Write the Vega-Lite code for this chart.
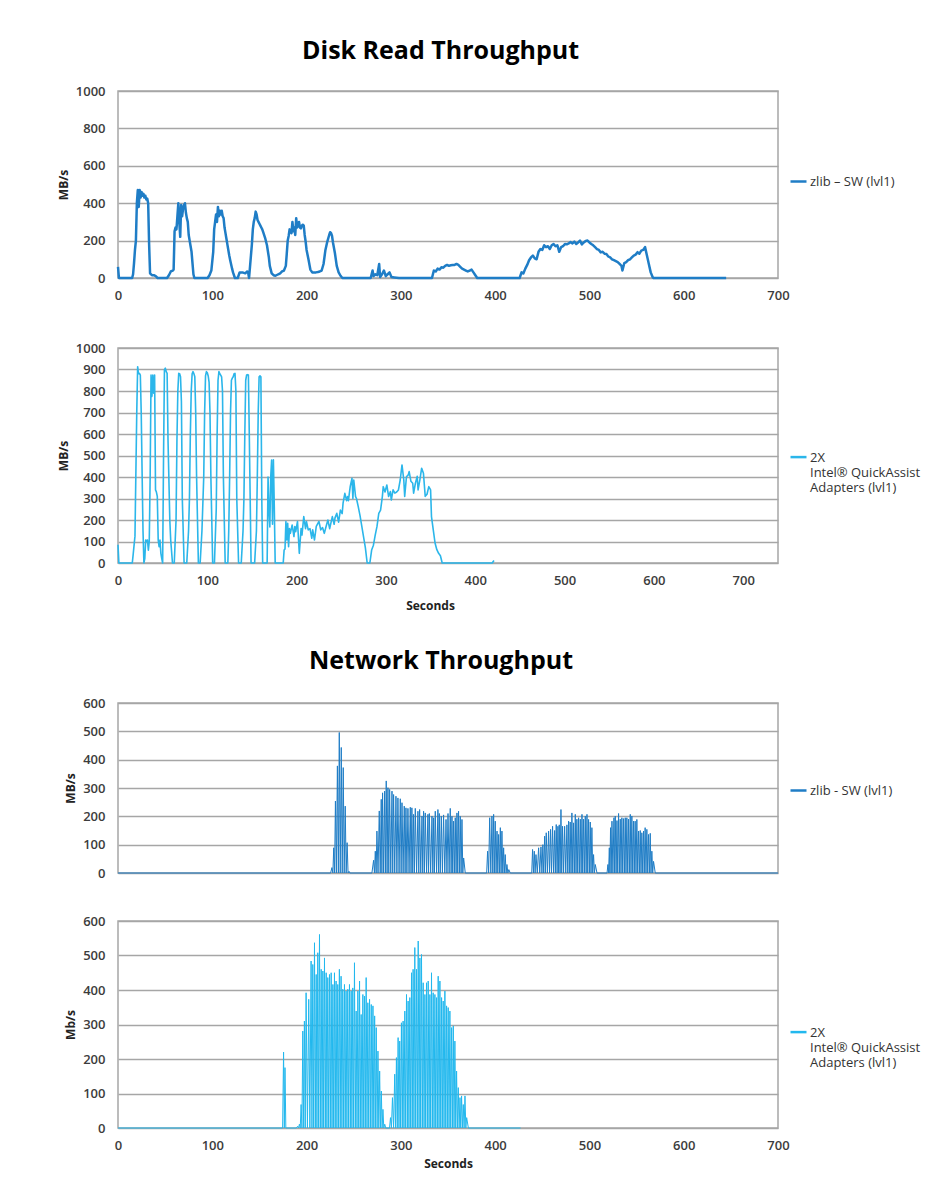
{
  "$schema": "https://vega.github.io/schema/vega-lite/v6.json",
  "background": "white",
  "padding": {"left": 56, "top": 39, "right": 5, "bottom": 5},
  "config": {
    "font": "Open Sans",
    "view": {"stroke": "#a6a6a6", "strokeWidth": 1.5},
    "axis": {"labelFont": "Open Sans", "labelFontSize": 13, "labelFontWeight": 600, "labelColor": "#3c3c3c", "ticks": false, "domain": false, "gridColor": "#a6a6a6", "gridWidth": 1.5, "titleFont": "Open Sans", "titleFontSize": 12, "titleFontWeight": 700, "titleColor": "#222222", "labelFlush": false, "format": "d"},
    "axisX": {"grid": false, "labelPadding": 11},
    "axisY": {"labelPadding": 13, "titlePadding": 5},
    "legend": {"labelFont": "Open Sans", "labelFontSize": 13, "labelColor": "#333333", "symbolStrokeWidth": 2.5, "symbolSize": 256, "symbolType": "stroke", "labelLimit": 0, "labelOffset": 2},
    "title": {"font": "Open Sans", "fontSize": 25, "fontWeight": 700, "color": "#000000"}
  },
  "datasets": {
    "diskZlib": [
      {"t":0,"v":60},{"t":1,"v":0},{"t":15,"v":0},{"t":16,"v":20},{"t":17,"v":80},{"t":18,"v":150},{"t":19,"v":200},{"t":20,"v":400},{"t":21,"v":470},{"t":22,"v":380},{"t":23,"v":470},{"t":24,"v":430},{"t":25,"v":460},{"t":26,"v":440},{"t":27,"v":450},{"t":28,"v":430},{"t":29,"v":440},{"t":30,"v":420},{"t":31,"v":425},{"t":32,"v":400},{"t":33,"v":180},{"t":34,"v":25},{"t":36,"v":15},{"t":38,"v":15},{"t":40,"v":10},{"t":42,"v":0},
      {"t":52,"v":0},{"t":54,"v":15},{"t":56,"v":35},{"t":58,"v":40},{"t":59,"v":45},{"t":60,"v":250},{"t":61,"v":270},{"t":62,"v":260},{"t":63,"v":330},{"t":64,"v":400},{"t":65,"v":300},{"t":66,"v":220},{"t":67,"v":390},{"t":68,"v":330},{"t":69,"v":370},{"t":70,"v":390},{"t":71,"v":400},{"t":72,"v":350},{"t":73,"v":320},{"t":74,"v":300},{"t":75,"v":230},{"t":76,"v":200},{"t":77,"v":170},{"t":78,"v":140},{"t":79,"v":80},{"t":80,"v":20},{"t":81,"v":0},
      {"t":95,"v":0},{"t":97,"v":15},{"t":99,"v":40},{"t":101,"v":140},{"t":102,"v":260},{"t":103,"v":300},{"t":104,"v":340},{"t":105,"v":300},{"t":106,"v":380},{"t":107,"v":330},{"t":108,"v":360},{"t":109,"v":340},{"t":110,"v":360},{"t":111,"v":330},{"t":112,"v":320},{"t":113,"v":270},{"t":114,"v":240},{"t":115,"v":210},{"t":116,"v":180},{"t":118,"v":120},{"t":119,"v":95},{"t":121,"v":50},{"t":122,"v":30},{"t":124,"v":0},
      {"t":127,"v":0},{"t":129,"v":30},{"t":132,"v":30},{"t":135,"v":25},{"t":137,"v":35},{"t":138,"v":30},{"t":139,"v":0},{"t":140,"v":60},{"t":142,"v":180},{"t":143,"v":260},{"t":144,"v":300},{"t":145,"v":320},{"t":146,"v":355},{"t":147,"v":340},{"t":148,"v":310},{"t":149,"v":300},{"t":150,"v":290},{"t":151,"v":280},{"t":152,"v":270},{"t":153,"v":260},{"t":154,"v":245},{"t":156,"v":215},{"t":158,"v":175},{"t":160,"v":110},{"t":161,"v":65},{"t":163,"v":25},{"t":165,"v":15},{"t":167,"v":12},{"t":170,"v":20},{"t":172,"v":25},{"t":174,"v":35},{"t":176,"v":40},
      {"t":178,"v":65},{"t":179,"v":130},{"t":180,"v":200},{"t":181,"v":225},{"t":182,"v":260},{"t":183,"v":250},{"t":184,"v":240},{"t":185,"v":300},{"t":186,"v":250},{"t":187,"v":270},{"t":188,"v":230},{"t":189,"v":320},{"t":190,"v":270},{"t":191,"v":280},{"t":192,"v":300},{"t":193,"v":270},{"t":194,"v":265},{"t":195,"v":280},{"t":196,"v":285},{"t":197,"v":280},{"t":198,"v":230},{"t":199,"v":195},{"t":200,"v":150},{"t":202,"v":100},{"t":204,"v":45},{"t":206,"v":30},{"t":208,"v":30},{"t":210,"v":30},{"t":212,"v":32},{"t":214,"v":35},{"t":216,"v":40},
      {"t":218,"v":75},{"t":220,"v":150},{"t":222,"v":195},{"t":224,"v":230},{"t":225,"v":245},{"t":226,"v":240},{"t":227,"v":225},{"t":228,"v":190},{"t":230,"v":135},{"t":232,"v":65},{"t":234,"v":30},{"t":236,"v":12},{"t":238,"v":0},
      {"t":268,"v":0},{"t":270,"v":40},{"t":271,"v":10},{"t":273,"v":20},{"t":275,"v":15},{"t":277,"v":75},{"t":278,"v":5},{"t":280,"v":20},{"t":282,"v":40},{"t":284,"v":10},{"t":286,"v":20},{"t":288,"v":30},{"t":290,"v":5},{"t":293,"v":3},{"t":298,"v":0},
      {"t":333,"v":0},{"t":335,"v":40},{"t":337,"v":35},{"t":339,"v":50},{"t":341,"v":45},{"t":343,"v":57},{"t":345,"v":55},{"t":347,"v":65},{"t":349,"v":70},{"t":351,"v":65},{"t":353,"v":68},{"t":355,"v":70},{"t":357,"v":70},{"t":359,"v":75},{"t":361,"v":70},{"t":363,"v":60},{"t":365,"v":50},{"t":367,"v":45},{"t":369,"v":40},{"t":371,"v":35},{"t":373,"v":40},{"t":375,"v":45},{"t":377,"v":30},{"t":379,"v":15},{"t":381,"v":0},
      {"t":426,"v":0},{"t":428,"v":30},{"t":430,"v":25},{"t":432,"v":50},{"t":434,"v":70},{"t":436,"v":95},{"t":438,"v":110},{"t":440,"v":120},{"t":442,"v":105},{"t":444,"v":100},{"t":446,"v":140},{"t":448,"v":155},{"t":450,"v":150},{"t":452,"v":175},{"t":454,"v":165},{"t":456,"v":170},{"t":458,"v":155},{"t":460,"v":175},{"t":462,"v":182},{"t":464,"v":170},{"t":466,"v":175},{"t":468,"v":140},{"t":470,"v":165},{"t":472,"v":170},{"t":474,"v":182},{"t":476,"v":180},{"t":478,"v":185},{"t":480,"v":192},{"t":482,"v":185},{"t":484,"v":195},{"t":486,"v":182},{"t":488,"v":190},{"t":490,"v":200},{"t":492,"v":180},{"t":494,"v":190},{"t":496,"v":198},{"t":498,"v":200},{"t":500,"v":190},{"t":502,"v":182},{"t":504,"v":175},{"t":506,"v":165},{"t":508,"v":155},{"t":510,"v":150},{"t":512,"v":137},{"t":514,"v":140},{"t":516,"v":130},{"t":518,"v":128},{"t":520,"v":115},{"t":522,"v":110},{"t":524,"v":100},{"t":526,"v":95},{"t":528,"v":90},{"t":530,"v":85},{"t":532,"v":75},{"t":534,"v":65},{"t":535,"v":40},{"t":537,"v":80},{"t":539,"v":85},{"t":541,"v":95},{"t":543,"v":100},{"t":545,"v":110},{"t":547,"v":120},{"t":549,"v":125},{"t":551,"v":138},{"t":553,"v":130},{"t":555,"v":146},{"t":557,"v":150},{"t":559,"v":165},{"t":561,"v":120},{"t":563,"v":75},{"t":565,"v":30},{"t":567,"v":5},{"t":568,"v":0},{"t":645,"v":0}
    ],
    "diskQat": [
      {"t":0,"v":85},{"t":1,"v":0},{"t":16,"v":0},{"t":17,"v":40},{"t":19,"v":125},{"t":21,"v":700},{"t":22,"v":913},{"t":23,"v":880},{"t":24,"v":882},{"t":25,"v":874},{"t":26,"v":700},{"t":27,"v":417},{"t":28,"v":150},{"t":29,"v":0},{"t":30,"v":20},{"t":31,"v":107},{"t":32,"v":100},{"t":33,"v":107},{"t":34,"v":60},{"t":35,"v":100},
      {"t":36,"v":400},{"t":37,"v":874},{"t":38,"v":775},{"t":39,"v":874},{"t":40,"v":790},{"t":41,"v":874},{"t":42,"v":340},{"t":43,"v":330},{"t":44,"v":310},{"t":45,"v":107},{"t":46,"v":76},{"t":47,"v":107},{"t":48,"v":45},{"t":49,"v":20},{"t":50,"v":0},
      {"t":51,"v":500},{"t":52,"v":898},{"t":53,"v":906},{"t":54,"v":890},{"t":55,"v":882},{"t":56,"v":572},{"t":58,"v":200},{"t":59,"v":107},{"t":61,"v":0},{"t":63,"v":0},
      {"t":65,"v":200},{"t":66,"v":572},{"t":67,"v":800},{"t":68,"v":882},{"t":69,"v":880},{"t":70,"v":866},{"t":71,"v":750},{"t":72,"v":300},{"t":74,"v":0},{"t":77,"v":0},
      {"t":79,"v":150},{"t":80,"v":300},{"t":81,"v":600},{"t":82,"v":800},{"t":83,"v":880},{"t":84,"v":890},{"t":85,"v":880},{"t":86,"v":866},{"t":87,"v":700},{"t":88,"v":400},{"t":90,"v":0},{"t":92,"v":0},
      {"t":94,"v":150},{"t":96,"v":400},{"t":97,"v":700},{"t":98,"v":870},{"t":99,"v":890},{"t":100,"v":885},{"t":101,"v":870},{"t":102,"v":840},{"t":103,"v":700},{"t":104,"v":400},{"t":106,"v":0},{"t":108,"v":0},
      {"t":110,"v":250},{"t":111,"v":600},{"t":112,"v":850},{"t":113,"v":890},{"t":114,"v":880},{"t":115,"v":874},{"t":116,"v":866},{"t":117,"v":800},{"t":118,"v":400},{"t":120,"v":0},{"t":123,"v":0},
      {"t":124,"v":150},{"t":125,"v":400},{"t":126,"v":700},{"t":127,"v":850},{"t":128,"v":860},{"t":129,"v":866},{"t":130,"v":880},{"t":131,"v":882},{"t":132,"v":800},{"t":133,"v":300},{"t":135,"v":0},{"t":138,"v":0},
      {"t":140,"v":150},{"t":141,"v":300},{"t":142,"v":600},{"t":143,"v":850},{"t":144,"v":874},{"t":145,"v":876},{"t":146,"v":874},{"t":147,"v":600},{"t":148,"v":300},{"t":149,"v":0},{"t":153,"v":0},
      {"t":155,"v":150},{"t":156,"v":400},{"t":157,"v":700},{"t":158,"v":866},{"t":159,"v":870},{"t":160,"v":866},{"t":161,"v":300},{"t":162,"v":0},{"t":167,"v":0},
      {"t":168,"v":400},{"t":169,"v":250},{"t":170,"v":168},{"t":171,"v":400},{"t":172,"v":479},{"t":173,"v":180},{"t":174,"v":480},{"t":175,"v":262},{"t":176,"v":0},{"t":185,"v":0},
      {"t":186,"v":60},{"t":187,"v":65},{"t":188,"v":193},{"t":189,"v":107},{"t":190,"v":185},{"t":191,"v":76},{"t":192,"v":160},{"t":193,"v":138},{"t":195,"v":177},{"t":197,"v":123},{"t":198,"v":170},{"t":199,"v":146},{"t":201,"v":193},{"t":203,"v":45},{"t":205,"v":160},{"t":206,"v":130},{"t":208,"v":216},{"t":210,"v":160},{"t":211,"v":193},{"t":213,"v":154},{"t":215,"v":160},{"t":217,"v":115},{"t":218,"v":154},{"t":220,"v":107},{"t":222,"v":170},{"t":225,"v":193},{"t":227,"v":154},{"t":229,"v":165},{"t":231,"v":138},{"t":233,"v":170},{"t":235,"v":200},{"t":237,"v":160},{"t":240,"v":216},{"t":242,"v":180},{"t":243,"v":210},{"t":245,"v":231},{"t":247,"v":190},{"t":249,"v":246},{"t":251,"v":230},{"t":252,"v":278},{"t":254,"v":324},{"t":256,"v":290},{"t":257,"v":309},{"t":258,"v":290},{"t":260,"v":355},{"t":262,"v":394},{"t":263,"v":300},{"t":264,"v":386},{"t":266,"v":309},{"t":267,"v":300},{"t":269,"v":262},{"t":271,"v":220},{"t":273,"v":170},{"t":275,"v":120},{"t":277,"v":70},{"t":279,"v":0},{"t":282,"v":0},
      {"t":284,"v":60},{"t":286,"v":83},{"t":288,"v":130},{"t":290,"v":170},{"t":292,"v":231},{"t":294,"v":246},{"t":296,"v":309},{"t":297,"v":355},{"t":299,"v":330},{"t":301,"v":363},{"t":303,"v":309},{"t":305,"v":332},{"t":306,"v":293},{"t":308,"v":340},{"t":310,"v":325},{"t":312,"v":330},{"t":314,"v":340},{"t":316,"v":386},{"t":318,"v":456},{"t":320,"v":386},{"t":321,"v":310},{"t":323,"v":401},{"t":325,"v":410},{"t":326,"v":425},{"t":328,"v":380},{"t":330,"v":371},{"t":331,"v":325},{"t":333,"v":371},{"t":335,"v":403},{"t":336,"v":340},{"t":338,"v":387},{"t":340,"v":441},{"t":342,"v":417},{"t":344,"v":310},{"t":346,"v":320},{"t":348,"v":355},{"t":350,"v":340},{"t":351,"v":216},{"t":353,"v":154},{"t":355,"v":93},{"t":357,"v":62},{"t":359,"v":45},{"t":361,"v":34},{"t":363,"v":0},{"t":419,"v":0},{"t":421,"v":12}
    ],
    "netZlib": [
      {"t":0,"v":0},{"t":225.5,"v":0},{"t":226.9,"v":19},{"t":227.9,"v":0},{"t":228.8,"v":89},{"t":229.7,"v":0},{"t":230.6,"v":254},{"t":231.6,"v":0},{"t":232.7,"v":378},{"t":233.7,"v":0},{"t":234.7,"v":496},{"t":235.7,"v":0},{"t":236.8,"v":443},{"t":237.8,"v":0},{"t":238.9,"v":372},{"t":239.9,"v":0},{"t":241.0,"v":236},{"t":242.0,"v":0},{"t":243.0,"v":107},{"t":244.0,"v":0},{"t":245.0,"v":6},{"t":246.0,"v":0},
      {"t":269.3,"v":0},{"t":271.1,"v":45},{"t":272.0,"v":0},{"t":272.9,"v":77},{"t":273.8,"v":0},{"t":274.6,"v":148},{"t":275.8,"v":0},{"t":277.1,"v":219},{"t":278.1,"v":0},{"t":279.2,"v":260},{"t":279.9,"v":0},{"t":280.6,"v":283},{"t":281.7,"v":0},{"t":282.8,"v":289},{"t":283.6,"v":0},{"t":284.5,"v":325},{"t":285.4,"v":0},{"t":286.3,"v":301},{"t":287.2,"v":0},{"t":288.1,"v":295},{"t":289.3,"v":0},{"t":290.6,"v":289},{"t":291.4,"v":0},{"t":292.3,"v":277},{"t":293.5,"v":0},{"t":294.8,"v":271},{"t":295.8,"v":0},{"t":296.9,"v":265},{"t":298.1,"v":0},{"t":299.4,"v":262},{"t":300.3,"v":0},{"t":301.2,"v":248},{"t":302.4,"v":0},{"t":303.6,"v":236},{"t":304.5,"v":0},{"t":305.4,"v":230},{"t":306.4,"v":0},{"t":307.5,"v":228},{"t":308.7,"v":0},{"t":310.0,"v":232},{"t":310.8,"v":0},{"t":311.7,"v":230},{"t":312.6,"v":0},{"t":313.5,"v":207},{"t":314.4,"v":0},{"t":315.3,"v":228},{"t":316.7,"v":0},{"t":318.1,"v":218},{"t":319.0,"v":0},{"t":319.9,"v":224},{"t":321.1,"v":0},{"t":322.4,"v":201},{"t":323.2,"v":0},{"t":324.1,"v":218},{"t":325.0,"v":0},{"t":325.9,"v":212},{"t":327.3,"v":0},{"t":328.7,"v":207},{"t":329.4,"v":0},{"t":330.2,"v":210},{"t":331.6,"v":0},{"t":333.0,"v":201},{"t":333.9,"v":0},{"t":334.8,"v":195},{"t":335.6,"v":0},{"t":336.5,"v":218},{"t":337.9,"v":0},{"t":339.3,"v":224},{"t":340.0,"v":0},{"t":340.8,"v":210},{"t":341.8,"v":0},{"t":342.9,"v":201},{"t":344.1,"v":0},{"t":345.3,"v":205},{"t":346.6,"v":0},{"t":347.9,"v":189},{"t":348.9,"v":0},{"t":350.0,"v":210},{"t":351.2,"v":0},{"t":352.4,"v":228},{"t":353.3,"v":0},{"t":354.2,"v":200},{"t":355.0,"v":0},{"t":355.9,"v":183},{"t":356.8,"v":0},{"t":357.7,"v":195},{"t":358.6,"v":0},{"t":359.5,"v":212},{"t":360.3,"v":0},{"t":361.2,"v":218},{"t":362.1,"v":0},{"t":363.0,"v":200},{"t":363.9,"v":0},{"t":364.8,"v":189},{"t":365.7,"v":0},{"t":366.6,"v":53},{"t":368.3,"v":0},
      {"t":391.0,"v":0},{"t":392.0,"v":77},{"t":393.1,"v":0},{"t":394.2,"v":195},{"t":395.4,"v":0},{"t":396.6,"v":201},{"t":397.5,"v":0},{"t":398.4,"v":207},{"t":399.2,"v":0},{"t":400.1,"v":183},{"t":401.0,"v":0},{"t":402.0,"v":148},{"t":402.8,"v":0},{"t":403.7,"v":136},{"t":404.6,"v":0},{"t":405.5,"v":160},{"t":406.3,"v":0},{"t":407.2,"v":148},{"t":408.1,"v":0},{"t":409.0,"v":89},{"t":409.8,"v":0},{"t":410.7,"v":65},{"t":411.6,"v":0},{"t":412.5,"v":30},{"t":413.5,"v":0},{"t":414.5,"v":12},{"t":416.0,"v":0},
      {"t":438.8,"v":0},{"t":439.7,"v":83},{"t":440.6,"v":0},{"t":441.5,"v":77},{"t":442.4,"v":0},{"t":443.3,"v":65},{"t":444.7,"v":0},{"t":446.1,"v":89},{"t":447.3,"v":0},{"t":448.6,"v":92},{"t":449.6,"v":0},{"t":450.6,"v":100},{"t":451.5,"v":0},{"t":452.5,"v":130},{"t":453.3,"v":0},{"t":454.2,"v":142},{"t":455.4,"v":0},{"t":456.7,"v":148},{"t":457.7,"v":0},{"t":458.8,"v":154},{"t":459.8,"v":0},{"t":460.9,"v":165},{"t":462.0,"v":0},{"t":463.1,"v":150},{"t":463.9,"v":0},{"t":464.8,"v":171},{"t":465.7,"v":0},{"t":466.6,"v":165},{"t":467.3,"v":0},{"t":468.0,"v":170},{"t":468.9,"v":0},{"t":469.8,"v":224},{"t":470.6,"v":0},{"t":471.5,"v":165},{"t":472.6,"v":0},{"t":473.7,"v":165},{"t":474.9,"v":0},{"t":476.1,"v":170},{"t":477.0,"v":0},{"t":477.9,"v":183},{"t":478.7,"v":0},{"t":479.6,"v":180},{"t":480.5,"v":0},{"t":481.4,"v":212},{"t":482.3,"v":0},{"t":483.2,"v":177},{"t":484.1,"v":0},{"t":485.0,"v":207},{"t":485.8,"v":0},{"t":486.7,"v":190},{"t":487.6,"v":0},{"t":488.5,"v":195},{"t":489.4,"v":0},{"t":490.3,"v":190},{"t":491.2,"v":0},{"t":492.1,"v":207},{"t":492.9,"v":0},{"t":493.8,"v":190},{"t":494.7,"v":0},{"t":495.6,"v":201},{"t":496.5,"v":0},{"t":497.4,"v":207},{"t":498.2,"v":0},{"t":499.1,"v":189},{"t":500.0,"v":0},{"t":500.9,"v":180},{"t":501.7,"v":0},{"t":502.6,"v":160},{"t":503.5,"v":0},{"t":504.4,"v":65},{"t":505.3,"v":0},{"t":506.2,"v":30},{"t":508.0,"v":0},
      {"t":518.7,"v":0},{"t":519.6,"v":30},{"t":520.3,"v":0},{"t":521.1,"v":89},{"t":521.7,"v":0},{"t":522.4,"v":160},{"t":523.1,"v":0},{"t":523.9,"v":183},{"t":524.9,"v":0},{"t":526.0,"v":195},{"t":526.7,"v":0},{"t":527.4,"v":201},{"t":528.3,"v":0},{"t":529.2,"v":185},{"t":530.0,"v":0},{"t":530.9,"v":210},{"t":531.8,"v":0},{"t":532.7,"v":190},{"t":533.5,"v":0},{"t":534.4,"v":195},{"t":535.3,"v":0},{"t":536.2,"v":192},{"t":537.1,"v":0},{"t":538.0,"v":195},{"t":538.8,"v":0},{"t":539.7,"v":195},{"t":540.6,"v":0},{"t":541.5,"v":190},{"t":542.4,"v":0},{"t":543.3,"v":207},{"t":544.1,"v":0},{"t":545.0,"v":201},{"t":545.9,"v":0},{"t":546.8,"v":183},{"t":547.6,"v":0},{"t":548.5,"v":183},{"t":549.4,"v":0},{"t":550.3,"v":189},{"t":551.2,"v":0},{"t":552.1,"v":148},{"t":553.0,"v":0},{"t":553.9,"v":150},{"t":554.7,"v":0},{"t":555.6,"v":142},{"t":556.5,"v":0},{"t":557.4,"v":148},{"t":558.2,"v":0},{"t":559.1,"v":160},{"t":560.0,"v":0},{"t":560.9,"v":154},{"t":561.8,"v":0},{"t":562.7,"v":136},{"t":563.6,"v":0},{"t":564.5,"v":140},{"t":565.3,"v":0},{"t":566.2,"v":77},{"t":567.1,"v":0},{"t":568.0,"v":41},{"t":569.8,"v":0},{"t":700,"v":0}
    ],
    "netQat": [
      {"t":0,"v":0},{"t":174.6,"v":0},{"t":175.6,"v":220},{"t":176.4,"v":0},{"t":177.1,"v":175},{"t":178.0,"v":0},{"t":189.0,"v":0},{"t":190.5,"v":5},{"t":191.5,"v":0},{"t":192.4,"v":11},{"t":193.3,"v":0},{"t":194.2,"v":68},{"t":195.1,"v":0},{"t":196.0,"v":281},{"t":196.9,"v":0},{"t":197.7,"v":310},{"t":198.6,"v":0},{"t":199.5,"v":392},{"t":200.9,"v":0},{"t":202.3,"v":373},{"t":203.5,"v":0},{"t":204.8,"v":484},{"t":205.7,"v":0},{"t":206.6,"v":474},{"t":207.5,"v":0},{"t":208.4,"v":537},{"t":209.3,"v":0},{"t":210.2,"v":445},{"t":211.0,"v":0},{"t":211.9,"v":508},{"t":212.8,"v":0},{"t":213.7,"v":561},{"t":214.6,"v":0},{"t":215.5,"v":460},{"t":216.4,"v":0},{"t":217.3,"v":455},{"t":218.1,"v":0},{"t":219.0,"v":493},{"t":219.9,"v":0},{"t":220.8,"v":450},{"t":221.6,"v":0},{"t":222.5,"v":436},{"t":223.4,"v":0},{"t":224.3,"v":445},{"t":225.2,"v":0},{"t":226.1,"v":450},{"t":227.0,"v":0},{"t":227.9,"v":416},{"t":228.7,"v":0},{"t":229.6,"v":450},{"t":230.4,"v":0},{"t":231.3,"v":426},{"t":232.2,"v":0},{"t":233.1,"v":416},{"t":233.9,"v":0},{"t":234.8,"v":460},{"t":235.7,"v":0},{"t":236.6,"v":440},{"t":237.5,"v":0},{"t":238.4,"v":402},{"t":239.3,"v":0},{"t":240.2,"v":416},{"t":241.0,"v":0},{"t":241.9,"v":397},{"t":242.8,"v":0},{"t":243.7,"v":402},{"t":244.6,"v":0},{"t":245.5,"v":416},{"t":246.4,"v":0},{"t":247.3,"v":397},{"t":248.1,"v":0},{"t":249.0,"v":406},{"t":249.9,"v":0},{"t":250.8,"v":479},{"t":251.7,"v":0},{"t":252.6,"v":339},{"t":253.5,"v":0},{"t":254.4,"v":397},{"t":255.3,"v":0},{"t":256.2,"v":426},{"t":257.0,"v":0},{"t":257.9,"v":329},{"t":258.8,"v":0},{"t":259.7,"v":387},{"t":260.6,"v":0},{"t":261.5,"v":382},{"t":262.3,"v":0},{"t":263.2,"v":436},{"t":264.1,"v":0},{"t":265.0,"v":363},{"t":265.9,"v":0},{"t":266.8,"v":373},{"t":267.7,"v":0},{"t":268.6,"v":358},{"t":269.5,"v":0},{"t":270.4,"v":354},{"t":271.3,"v":0},{"t":272.2,"v":325},{"t":273.0,"v":0},{"t":273.9,"v":291},{"t":274.8,"v":0},{"t":275.7,"v":223},{"t":276.6,"v":0},{"t":277.5,"v":165},{"t":278.4,"v":0},{"t":279.3,"v":107},{"t":280.1,"v":0},{"t":281.0,"v":54},{"t":281.9,"v":0},{"t":282.9,"v":11},{"t":284.0,"v":0},
      {"t":288.0,"v":0},{"t":289.0,"v":30},{"t":290.0,"v":0},{"t":291.1,"v":88},{"t":292.3,"v":0},{"t":293.5,"v":156},{"t":294.4,"v":0},{"t":295.3,"v":204},{"t":296.2,"v":0},{"t":297.1,"v":262},{"t":298.0,"v":0},{"t":298.8,"v":252},{"t":299.7,"v":0},{"t":300.6,"v":305},{"t":301.5,"v":0},{"t":302.4,"v":310},{"t":303.3,"v":0},{"t":304.2,"v":339},{"t":305.1,"v":0},{"t":306.0,"v":387},{"t":306.9,"v":0},{"t":307.7,"v":368},{"t":308.6,"v":0},{"t":309.5,"v":378},{"t":310.4,"v":0},{"t":311.3,"v":450},{"t":312.1,"v":0},{"t":313.0,"v":460},{"t":313.9,"v":0},{"t":314.8,"v":523},{"t":315.7,"v":0},{"t":316.6,"v":460},{"t":317.5,"v":0},{"t":318.4,"v":542},{"t":319.3,"v":0},{"t":320.2,"v":493},{"t":321.0,"v":0},{"t":321.9,"v":503},{"t":322.8,"v":0},{"t":323.7,"v":421},{"t":324.6,"v":0},{"t":325.5,"v":387},{"t":326.3,"v":0},{"t":327.2,"v":421},{"t":328.1,"v":0},{"t":329.0,"v":426},{"t":329.9,"v":0},{"t":330.8,"v":387},{"t":331.6,"v":0},{"t":332.5,"v":450},{"t":333.4,"v":0},{"t":334.3,"v":392},{"t":335.2,"v":0},{"t":336.1,"v":387},{"t":337.0,"v":0},{"t":337.9,"v":378},{"t":338.7,"v":0},{"t":339.6,"v":440},{"t":340.5,"v":0},{"t":341.4,"v":426},{"t":342.3,"v":0},{"t":343.2,"v":378},{"t":344.0,"v":0},{"t":344.9,"v":368},{"t":345.8,"v":0},{"t":346.7,"v":397},{"t":347.6,"v":0},{"t":348.5,"v":354},{"t":349.3,"v":0},{"t":350.2,"v":349},{"t":351.1,"v":0},{"t":352.0,"v":339},{"t":352.9,"v":0},{"t":353.8,"v":291},{"t":354.7,"v":0},{"t":355.6,"v":296},{"t":356.4,"v":0},{"t":357.3,"v":252},{"t":358.2,"v":0},{"t":359.1,"v":165},{"t":360.0,"v":0},{"t":360.9,"v":117},{"t":361.8,"v":0},{"t":362.7,"v":88},{"t":363.5,"v":0},{"t":364.4,"v":93},{"t":365.3,"v":0},{"t":366.2,"v":68},{"t":367.1,"v":0},{"t":368.0,"v":93},{"t":368.9,"v":0},{"t":369.8,"v":30},{"t":371.6,"v":0},{"t":427,"v":0}
    ]
  },
  "vconcat": [
    {
      "title": {"text": "Disk Read Throughput", "anchor": "start", "frame": "group", "dx": 184, "offset": 20},
      "spacing": 38,
      "resolve": {"scale": {"color": "independent", "x": "independent", "y": "independent"}, "legend": {"color": "independent"}},
      "vconcat": [
        {
          "width": 660, "height": 187,
          "data": {"name": "diskZlib"},
          "mark": {"type": "line", "strokeWidth": 2.5, "strokeJoin": "round"},
          "encoding": {
            "x": {"field": "t", "type": "quantitative", "scale": {"domain": [0, 700], "nice": false}, "axis": {"title": null, "values": [0, 100, 200, 300, 400, 500, 600, 700]}},
            "y": {"field": "v", "type": "quantitative", "scale": {"domain": [0, 1000], "nice": false}, "axis": {"title": "MB/s", "values": [0, 200, 400, 600, 800, 1000]}},
            "color": {"datum": "zlib – SW (lvl1)", "scale": {"range": ["#1f7dc6"]}, "legend": {"title": null, "orient": "none", "legendX": 671, "legendY": 81}}
          }
        },
        {
          "width": 660, "height": 215,
          "data": {"name": "diskQat"},
          "mark": {"type": "line", "strokeWidth": 1.6, "strokeJoin": "round"},
          "encoding": {
            "x": {"field": "t", "type": "quantitative", "scale": {"domain": [0, 739], "nice": false}, "axis": {"title": "Seconds", "titlePadding": 13, "titleX": 312, "values": [0, 100, 200, 300, 400, 500, 600, 700]}},
            "y": {"field": "v", "type": "quantitative", "scale": {"domain": [0, 1000], "nice": false}, "axis": {"title": "MB/s", "values": [0, 100, 200, 300, 400, 500, 600, 700, 800, 900, 1000]}},
            "color": {"datum": "2X|Intel® QuickAssist|Adapters (lvl1)", "scale": {"range": ["#2bb6ea"]}, "legend": {"title": null, "orient": "none", "legendX": 671, "legendY": 104, "labelExpr": "split(datum.label, '|')", "labelBaseline": "alphabetic", "symbolType": "M-1,-0.55L1,-0.55"}}
          }
        }
      ]
    },
    {
      "title": {"text": "Network Throughput", "anchor": "start", "frame": "group", "dx": 191, "offset": 22},
      "spacing": 33,
      "resolve": {"scale": {"color": "independent", "x": "independent", "y": "independent"}, "legend": {"color": "independent"}},
      "vconcat": [
        {
          "width": 660, "height": 170,
          "data": {"name": "netZlib"},
          "mark": {"type": "line", "strokeWidth": 1},
          "encoding": {
            "x": {"field": "t", "type": "quantitative", "scale": {"domain": [0, 700], "nice": false}, "axis": null},
            "y": {"field": "v", "type": "quantitative", "scale": {"domain": [0, 600], "nice": false}, "axis": {"title": "MB/s", "values": [0, 100, 200, 300, 400, 500, 600]}},
            "color": {"datum": "zlib - SW (lvl1)", "scale": {"range": ["#1f7dc6"]}, "legend": {"title": null, "orient": "none", "legendX": 671, "legendY": 78}}
          }
        },
        {
          "width": 660, "height": 207,
          "data": {"name": "netQat"},
          "mark": {"type": "line", "strokeWidth": 1},
          "encoding": {
            "x": {"field": "t", "type": "quantitative", "scale": {"domain": [0, 700], "nice": false}, "axis": {"title": "Seconds", "titlePadding": 6, "values": [0, 100, 200, 300, 400, 500, 600, 700]}},
            "y": {"field": "v", "type": "quantitative", "scale": {"domain": [0, 600], "nice": false}, "axis": {"title": "Mb/s", "values": [0, 100, 200, 300, 400, 500, 600]}},
            "color": {"datum": "2X|Intel® QuickAssist|Adapters (lvl1)", "scale": {"range": ["#22b8ee"]}, "legend": {"title": null, "orient": "none", "legendX": 671, "legendY": 106, "labelExpr": "split(datum.label, '|')", "labelBaseline": "alphabetic", "symbolType": "M-1,-0.55L1,-0.55"}}
          }
        }
      ]
    }
  ],
  "spacing": 37,
  "resolve": {"scale": {"color": "independent", "x": "independent", "y": "independent"}, "legend": {"color": "independent"}}
}
